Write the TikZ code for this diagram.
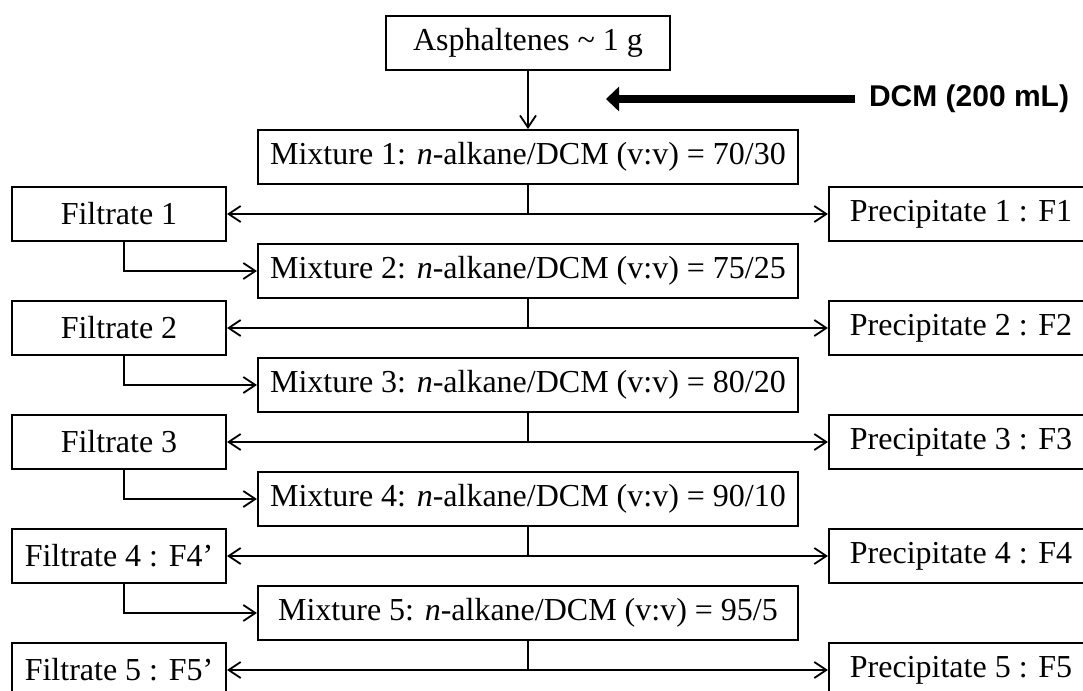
\documentclass[tikz,border=0pt]{standalone}
\usepackage{fontspec}
\setmainfont{Liberation Serif}
\newfontfamily\dcmfont{Liberation Sans}
\usetikzlibrary{arrows.meta}
\tikzset{
  box/.style={draw, line width=1.1pt, inner sep=0pt, minimum height=26.8pt, font=\fontsize{16}{18}\selectfont},
  mixbox/.style={box, minimum width=270pt},
  filbox/.style={box, minimum width=107pt},
  prebox/.style={box, minimum width=132pt},
  conn/.style={line width=0.9pt},
  arr/.style={conn, -{Straight Barb[length=6pt,width=8pt,line width=0.9pt]}},
  bigarr/.style={line width=4.2pt, -{Triangle[length=6.5pt,width=12pt]}},
}
\begin{document}
\begin{tikzpicture}[x=0.5pt,y=-0.5pt]
\useasboundingbox (0,0) rectangle (1083,691);
\fill[white] (0,0) rectangle (1083,691);
\node[box, minimum width=142pt] (asph) at (528,43) {Asphaltenes \textasciitilde\ 1 g};
\node[anchor=west, font=\dcmfont\bfseries\fontsize{15}{17}\selectfont] (dcm) at (862,99) {DCM (200 mL)};
\coordinate (dcmtip) at (606,99);
\draw[bigarr] (dcm.west) ++(-7,0) -- (dcmtip);
\foreach \i/\a/\b in {1/70/30,2/75/25,3/80/20,4/90/10,5/95/5}{
  \pgfmathsetmacro{\ym}{157+114*(\i-1)}
  \pgfmathsetmacro{\yf}{214+114*(\i-1)}
  \node[mixbox] (m\i) at (528,\ym) {Mixture \i: \textit{n}-alkane/DCM (v:v) = \a/\b};
  \node[prebox] (p\i) at (961,\yf) {Precipitate \i\ : F\i};
  \coordinate (j\i) at (528,\yf);
  \draw[conn] (m\i.south) -- (j\i);
  \draw[arr] (j\i) -- (p\i.west);
}
\node[filbox] (f1) at (119,214) {Filtrate 1};
\node[filbox] (f2) at (119,328) {Filtrate 2};
\node[filbox] (f3) at (119,442) {Filtrate 3};
\node[filbox] (f4) at (119,556) {Filtrate 4 : F4’};
\node[filbox] (f5) at (119,670) {Filtrate 5 : F5’};
\foreach \i in {1,...,5}{
  \draw[arr] (j\i) -- (f\i.east);
}
\foreach \i/\n in {1/2,2/3,3/4,4/5}{
  \draw[arr] ([xshift=2.5pt]f\i.south) |- (m\n.west);
}
\draw[arr] (asph.south) -- (m1.north);
\end{tikzpicture}
\end{document}
